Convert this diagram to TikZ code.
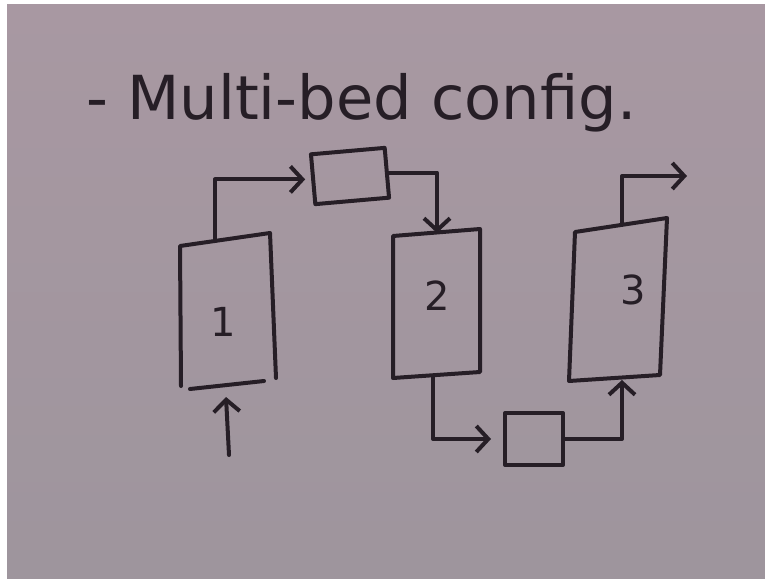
\documentclass[tikz,border=0pt]{standalone}
\usepackage{fontspec}
\setsansfont{DejaVu Sans}
\usetikzlibrary{arrows.meta}
\definecolor{inkc}{RGB}{38,30,38}
\definecolor{papertop}{RGB}{168,152,162}
\definecolor{paperbot}{RGB}{158,149,157}
\begin{document}
\begin{tikzpicture}[x=1pt,y=-1pt,
  ink/.style={draw=inkc, line width=4pt, line cap=round, line join=round},
  flow/.style={ink, -{Straight Barb[length=12pt,width=26pt,line width=4pt]}},
  hxbox/.style={ink, rectangle, inner sep=0pt},
  bedlabel/.style={text=inkc, font=\sffamily\fontsize{40}{40}\selectfont}]
% sheet and border
\useasboundingbox (0,0) rectangle (765,578);
\fill[white] (0,0) rectangle (765,578);
\shade[top color=papertop, bottom color=paperbot] (7,5) rectangle (765,578);

% title
\node[text=inkc, font=\sffamily\fontsize{56}{56}\selectfont, anchor=base west, inner sep=0pt] (title) at (86,119)
  {\resizebox{550pt}{!}{- Multi-bed config.}};

% bed 1 (open bottom, separate grate line)
\coordinate (b1tl) at (180,246);
\coordinate (b1tr) at (270,233);
\coordinate (b1br) at (276,378);
\coordinate (b1bl) at (181,386);
\coordinate (b1g1) at (190,389);
\coordinate (b1g2) at (264,381);
\draw[ink] (b1bl) -- (b1tl) -- (b1tr) -- (b1br);
\draw[ink] (b1g1) -- (b1g2);
\node[bedlabel] (bed1) at (223,322) {1};

% bed 2
\coordinate (b2tl) at (393,236);
\coordinate (b2tr) at (480,229);
\coordinate (b2br) at (480,372);
\coordinate (b2bl) at (393,378);
\draw[ink] (b2tl) -- (b2tr) -- (b2br) -- (b2bl) -- cycle;
\node[bedlabel] (bed2) at (437,296) {2};

% bed 3
\coordinate (b3tl) at (575,232);
\coordinate (b3tr) at (667,218);
\coordinate (b3br) at (660,375);
\coordinate (b3bl) at (569,381);
\draw[ink] (b3tl) -- (b3tr) -- (b3br) -- (b3bl) -- cycle;
\node[bedlabel] (bed3) at (633,290) {3};

% interstage exchangers
\node[hxbox, minimum width=74pt, minimum height=50pt, rotate=5] (hx1) at (350,176) {};
\node[hxbox, minimum width=58pt, minimum height=52pt] (hx2) at (534,439) {};

% stream connection points
\coordinate (feed) at (229,455);
\coordinate (b1in) at (226,397);
\coordinate (b1out) at (215,240);
\coordinate (b2in) at (437,233);
\coordinate (b2out) at (433,376);
\coordinate (b3in) at (622,380);
\coordinate (b3out) at (622,224);
\coordinate (product) at (687,176);

% streams
\draw[flow] (feed) -- (b1in);
\draw[flow] (b1out) |- ([xshift=-6pt]hx1.west);
\draw[flow] (hx1.east) -| (b2in);
\draw[flow] (b2out) |- ([xshift=-12pt]hx2.west);
\draw[flow] (hx2.east) -| (b3in);
\draw[flow] (b3out) |- (product);
\end{tikzpicture}
\end{document}
